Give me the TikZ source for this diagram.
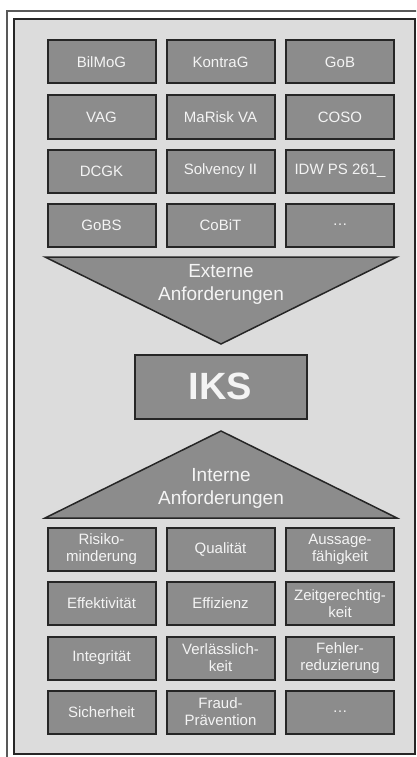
\documentclass[tikz,border=0pt]{standalone}
\usepackage{fontspec}
\setmainfont{Liberation Sans}
\definecolor{bgpanel}{HTML}{DCDCDC}
\definecolor{boxfill}{HTML}{8C8C8C}
\definecolor{boxline}{HTML}{262626}
\definecolor{boxtext}{HTML}{F4F4F4}
\begin{document}
\begin{tikzpicture}[x=1pt,y=-1pt,
  gbox/.style={draw=boxline,line width=2pt,fill=boxfill,minimum width=108pt,minimum height=43pt,
    inner sep=1pt,align=center,text=boxtext,font=\fontsize{15}{17}\selectfont},
  tri/.style={draw=boxline,line width=1.5pt,fill=boxfill,line join=miter},
  tritext/.style={align=center,text=boxtext,font=\fontsize{19}{23}\selectfont}]
\useasboundingbox (0,0) rectangle (416,757);
\clip (0,0) rectangle (416,757);
\fill[white] (0,0) rectangle (416,757);
% outer frame
\draw[color=gray!70!black,line width=1.2pt] (7,11) rectangle (430,770);
% panel
\draw[draw=boxline,line width=2pt,fill=bgpanel] (14,19) rectangle (415,754);
% top grid
\node[gbox] (bilmog) at (101.5,62) {BilMoG};
\node[gbox] (kontrag) at (220.5,62) {KontraG};
\node[gbox] (gob) at (340,62) {GoB};
\node[gbox] (vag) at (101.5,117) {VAG};
\node[gbox] (marisk) at (220.5,117) {MaRisk VA};
\node[gbox] (coso) at (340,117) {COSO};
\node[gbox] (dcgk) at (101.5,171) {DCGK};
\node[gbox] (solv) at (220.5,171) {Solvency II};
\node[gbox] (idw) at (340,171) {IDW PS 261\_};
\node[gbox] (gobs) at (101.5,225) {GoBS};
\node[gbox] (cobit) at (220.5,225) {CoBiT};
\node[gbox] (dots1) at (340,225) {\dots};
% down triangle
\coordinate (dl) at (45,257);
\coordinate (dr) at (397,257);
\coordinate (dapex) at (221,344);
\draw[tri] (dl) -- (dr) -- (dapex) -- cycle;
\node[tritext] (ext) at (221,284) {Externe\\Anforderungen};
% IKS
\node[draw=boxline,line width=2pt,fill=boxfill,minimum width=172pt,minimum height=64pt,
  text=boxtext,font=\fontsize{38}{40}\selectfont\bfseries] (iks) at (220.5,386.5) {IKS};
% up triangle
\coordinate (ul) at (45,518);
\coordinate (ur) at (397,518);
\coordinate (uapex) at (221,431);
\draw[tri] (ul) -- (ur) -- (uapex) -- cycle;
\node[tritext] (int) at (221,488) {Interne\\Anforderungen};
% bottom grid
\node[gbox] (risk) at (101.5,549.5) {Risiko-\\minderung};
\node[gbox] (qual) at (220.5,549.5) {Qualität};
\node[gbox] (auss) at (340,549.5) {Aussage-\\fähigkeit};
\node[gbox] (effe) at (101.5,603.5) {Effektivität};
\node[gbox] (effi) at (220.5,603.5) {Effizienz};
\node[gbox] (zeit) at (340,603.5) {Zeitgerechtig-\\keit};
\node[gbox] (integ) at (101.5,658) {Integrität};
\node[gbox] (verl) at (220.5,658) {Verlässlich-\\keit};
\node[gbox] (fehl) at (340,658) {Fehler-\\reduzierung};
\node[gbox] (sich) at (101.5,712) {Sicherheit};
\node[gbox] (fraud) at (220.5,712) {Fraud-\\Prävention};
\node[gbox] (dots2) at (340,712) {\dots};
\end{tikzpicture}
\end{document}
